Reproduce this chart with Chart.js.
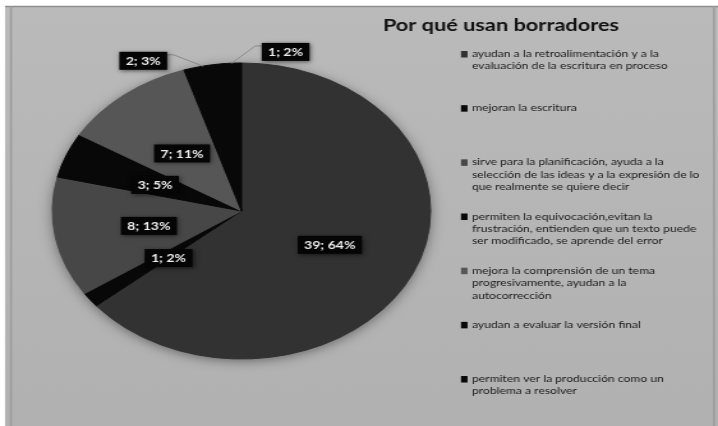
<!DOCTYPE html>
<html>
<head>
<meta charset="utf-8">
<script src="https://cdn.jsdelivr.net/npm/chart.js@4/dist/chart.umd.min.js"></script>
<style>
  html, body { margin: 0; padding: 0; background: #fff; overflow: hidden; }
  #wrap { position: absolute; left: 0; top: 0; width: 562px; height: 426px;
          transform: scaleX(1.27758); transform-origin: 0 0; }
  canvas { display: block; }
</style>
</head>
<body>
<div id="wrap"><canvas id="c" width="562" height="426"></canvas></div>
<script>
// ---- data ----
const chartTitle = 'Por qué usan borradores';
const categories = [
  ['ayudan a la retroalimentación y a la', 'evaluación de la escritura en proceso'],
  ['mejoran la escritura'],
  ['sirve para la planificación, ayuda a la', 'selección de las ideas y a la expresión de lo', 'que realmente se quiere decir'],
  ['permiten la equivocación,evitan la', 'frustración, entienden que un texto puede', 'ser modificado, se aprende del error'],
  ['mejora la comprensión de un tema', 'progresivamente, ayudan a la', 'autocorrección'],
  ['ayudan a evaluar la versión final'],
  ['permiten ver la producción como un', 'problema a resolver']
];
const counts = [39, 1, 8, 3, 7, 2, 1];

// ---- styling ----
const sliceColors = ['#323232', '#080808', '#474747', '#080808', '#565656', '#080808', '#080808'];
// where each value label sits: fraction of the radius and angular shift (degrees)
const labelPlacement = [
  { r: 0.52, shift: 1 },
  { r: 0.50, shift: -2.6 },
  { r: 0.50, shift: -1.3 },
  { r: 0.49, shift: -1 },
  { r: 0.50, shift: -0.6 },
  { r: 1.14, shift: -15.3, callout: true },
  { r: 1.10, shift: 15.2, callout: true }
];

const S = 718 / 562;            // horizontal stretch of the whole figure
const ux = v => v / S;          // page x -> canvas x

const total = counts.reduce((a, b) => a + b, 0);
const percents = counts.map(v => Math.round(v / total * 100));

const decor = {
  id: 'decor',
  beforeDraw(chart) {
    const { ctx, width, height } = chart;
    ctx.save();
    ctx.fillStyle = '#ffffff';
    ctx.fillRect(0, 0, width, height);
    const g = ctx.createLinearGradient(0, 6, 0, height);
    g.addColorStop(0, '#bababa');
    g.addColorStop(1, '#b1b1b1');
    ctx.fillStyle = g;
    ctx.fillRect(ux(5), 6, width, height);
    ctx.strokeStyle = '#8e8e8e';
    ctx.lineWidth = 1.5;
    ctx.beginPath();
    ctx.moveTo(ux(5), 6.5); ctx.lineTo(width, 6.5);
    ctx.stroke();
    ctx.strokeStyle = '#9c9c9c';
    ctx.lineWidth = ux(2);
    ctx.beginPath();
    ctx.moveTo(ux(11), 6); ctx.lineTo(ux(11), height);
    ctx.moveTo(ux(714), 6); ctx.lineTo(ux(714), height);
    ctx.stroke();
    ctx.restore();
  },
  beforeDatasetsDraw(chart) {
    // soft drop shadow under the pie
    const arc = chart.getDatasetMeta(0).data[0];
    const ctx = chart.ctx;
    ctx.save();
    ctx.shadowColor = 'rgba(0,0,0,0.5)';
    ctx.shadowBlur = 12;
    ctx.shadowOffsetY = 2;
    ctx.beginPath();
    ctx.arc(arc.x, arc.y, arc.outerRadius - 1, 0, Math.PI * 2);
    ctx.fillStyle = '#333';
    ctx.fill();
    ctx.restore();
  },
  afterDatasetsDraw(chart) {
    const ctx = chart.ctx;
    const meta = chart.getDatasetMeta(0);
    ctx.save();
    ctx.font = 'bold 11px Lato';
    ctx.textAlign = 'center';
    ctx.textBaseline = 'middle';
    meta.data.forEach((arc, i) => {
      const p = labelPlacement[i];
      const mid = (arc.startAngle + arc.endAngle) / 2;
      const a = mid + p.shift * Math.PI / 180;
      const R = arc.outerRadius;
      const bx = arc.x + Math.cos(a) * R * p.r;
      const by = arc.y + Math.sin(a) * R * p.r;
      const text = counts[i] + '; ' + percents[i] + '%';
      const w = ctx.measureText(text).width + 10;
      const h = 18;
      if (p.callout) {
        const ax = arc.x + Math.cos(mid) * R;
        const ay = arc.y + Math.sin(mid) * R;
        const side = bx < ax ? 1 : -1;
        const ex = bx + side * w / 2;
        const ey = by - h / 2 + 3;
        ctx.strokeStyle = '#8a8a8a';
        ctx.lineWidth = 1;
        ctx.beginPath();
        ctx.moveTo(ex, ey);
        ctx.lineTo(ex + side * 5, ey);
        ctx.lineTo(ax, ay);
        ctx.stroke();
      }
      ctx.save();
      ctx.shadowColor = 'rgba(0,0,0,0.55)';
      ctx.shadowBlur = 4;
      ctx.shadowOffsetX = 1;
      ctx.shadowOffsetY = 1;
      ctx.fillStyle = '#050505';
      ctx.fillRect(bx - w / 2, by - h / 2, w, h);
      ctx.restore();
      ctx.fillStyle = '#ececec';
      ctx.fillText(text, bx, by + 0.5);
    });
    ctx.restore();
  },
  afterDraw(chart) {
    const ctx = chart.ctx;
    ctx.save();
    // title
    ctx.font = 'bold 17px Lato';
    ctx.fillStyle = '#111';
    ctx.textAlign = 'center';
    ctx.textBaseline = 'alphabetic';
    ctx.fillText(chartTitle, ux(501), 31);
    // legend
    ctx.font = '9.5px Lato';
    ctx.textAlign = 'left';
    ctx.textBaseline = 'middle';
    categories.forEach((lines, i) => {
      const y0 = 54 + i * 54.17;
      ctx.fillStyle = sliceColors[i];
      ctx.fillRect(ux(461), y0 - 3, ux(6.5), 6.5);
      ctx.fillStyle = '#1a1a1a';
      lines.forEach((ln, j) => ctx.fillText(ln, ux(472), y0 + j * 12.4));
    });
    ctx.restore();
  }
};

new Chart(document.getElementById('c'), {
  type: 'pie',
  data: {
    labels: categories,
    datasets: [{
      data: counts,
      backgroundColor: sliceColors,
      borderColor: sliceColors,
      borderWidth: 1,
      hoverOffset: 0
    }]
  },
  options: {
    responsive: false,
    animation: false,
    events: [],
    layout: { padding: { left: 40.5, right: 224.5, top: 62.5, bottom: 66.5 } },
    plugins: {
      legend: { display: false },
      tooltip: { enabled: false },
      title: { display: false }
    }
  },
  plugins: [decor]
});
</script>
</body>
</html>
